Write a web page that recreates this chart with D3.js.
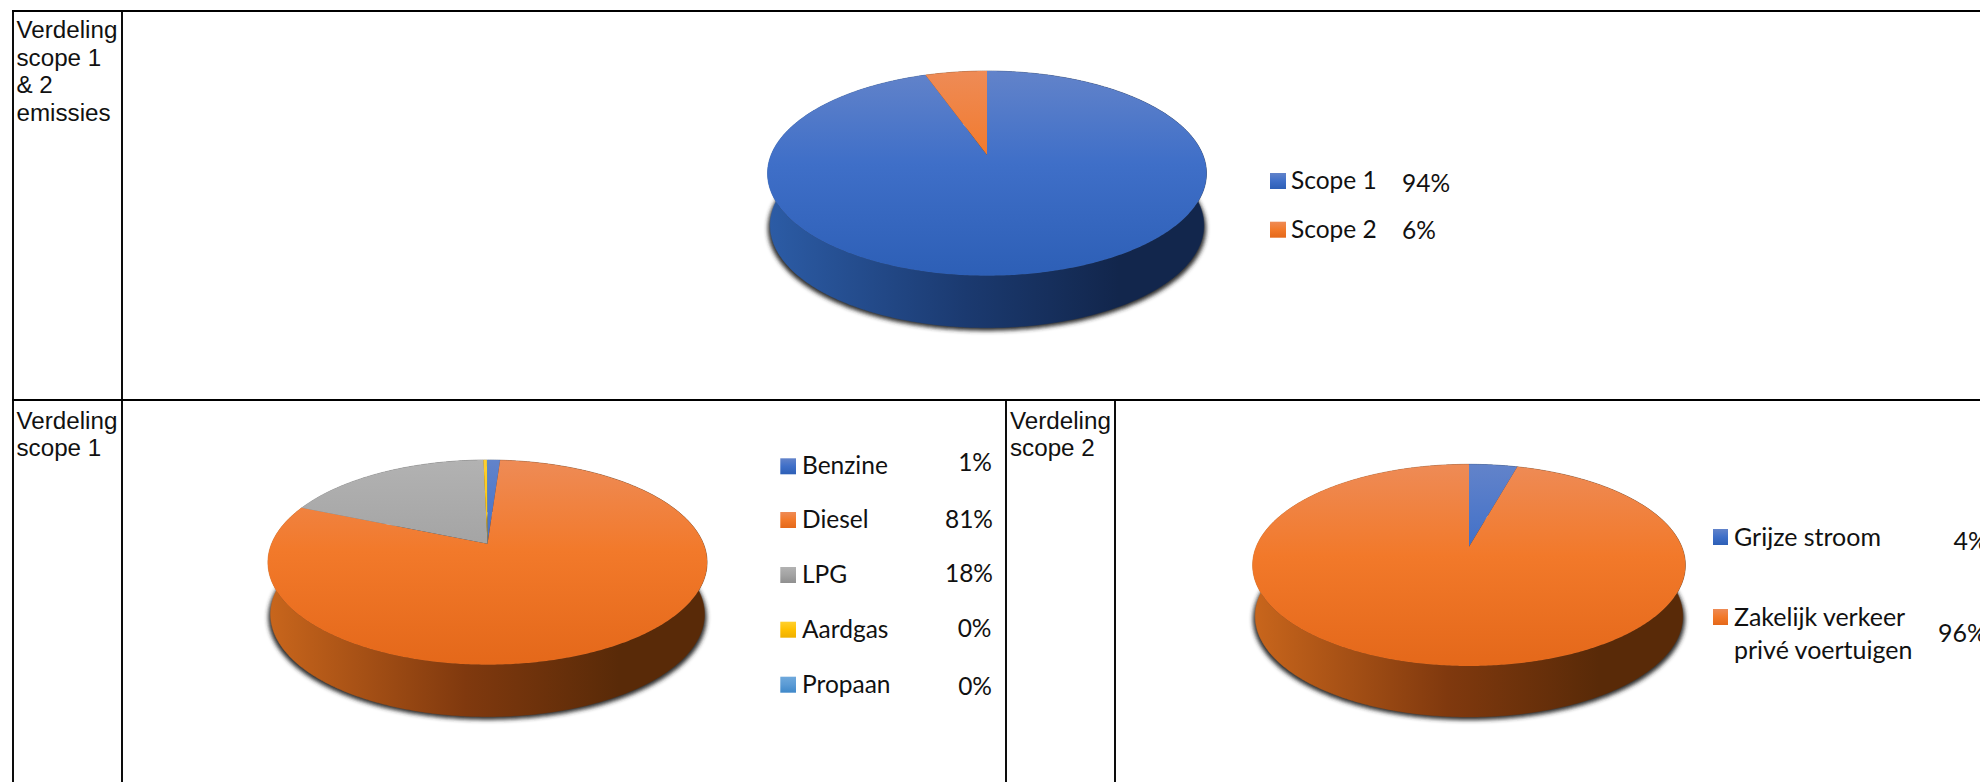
<!DOCTYPE html>
<html>
<head>
<meta charset="utf-8">
<script src="https://cdn.jsdelivr.net/npm/d3@7"></script>
<style>
html,body{margin:0;padding:0;background:#fff;overflow:hidden}
svg{display:block}
.cell{font-family:"Liberation Sans",Arial,sans-serif;font-size:24.2px;fill:#111}
.lg{font-family:Lato,"Carlito",sans-serif;font-size:24.5px;fill:#111}
</style>
</head>
<body>
<svg id="c" width="1980" height="782"></svg>
<script>
// Data
const scope12Names = ["Scope 1", "Scope 2"];
const scope12Values = [94.6, 5.4];
const scope12Labels = ["94%", "6%"];
const scope12Colors = ["blue", "orange"];

const scope1Names = ["Benzine", "Diesel", "LPG", "Aardgas", "Propaan"];
const scope1Values = [1.1, 80.25, 18.3, 0.3, 0.05];
const scope1Labels = ["1%", "81%", "18%", "0%", "0%"];
const scope1Colors = ["blue", "orange", "grey", "yellow", "sky"];

const scope2Names = [["Grijze stroom"], ["Zakelijk verkeer", "privé voertuigen"]];
const scope2Values = [4.3, 95.7];
const scope2Labels = ["4%", "96%"];
const scope2Colors = ["blue", "orange"];

const cellTitles = [["Verdeling", "scope 1", "& 2", "emissies"], ["Verdeling", "scope 1"], ["Verdeling", "scope 2"]];

// Styling
const ramps = {
  blue:   {top:["#6283ca","#3f6fc8","#2d5fb6"], side:["#2c5ca6","#1b3a70","#12264c"]},
  orange: {top:["#ee8b56","#f2792a","#e4681a"], side:["#c9661c","#80390e","#592a08"]},
  grey:   {top:["#b2b2b2","#a3a3a3","#8f8f8f"], side:["#8a8a8a","#5a5a5a","#3c3c3c"]},
  yellow: {top:["#ffd02e","#ffc000","#eeb000"], side:["#c79500","#8a6800","#5f4700"]},
  sky:    {top:["#6fa9dc","#5b9bd5","#3f88c9"], side:["#3f7fb8","#2a5a85","#1d3f5e"]}
};

const svg = d3.select("#c");
const defs = svg.append("defs");

defs.append("filter").attr("id","blur").attr("x","-10%").attr("y","-10%").attr("width","120%").attr("height","120%")
  .append("feGaussianBlur").attr("stdDeviation",2);

Object.entries(ramps).forEach(([name,r])=>{
  const sw = defs.append("linearGradient").attr("id","sw-"+name).attr("x1",0).attr("y1",0).attr("x2",0).attr("y2",1);
  r.top.forEach((c,i)=>sw.append("stop").attr("offset",i/2).attr("stop-color",c));
});

// Table rules
const rules = [[13,11,1980,11],[13,400,1980,400],[13,11,13,782],[122,11,122,782],[1006,400,1006,782],[1115,400,1115,782]];
svg.append("g").selectAll("line").data(rules).join("line")
  .attr("x1",d=>d[0]).attr("y1",d=>d[1]).attr("x2",d=>d[2]).attr("y2",d=>d[3])
  .attr("stroke","#000").attr("stroke-width",1.9).attr("stroke-linecap","square");

// Cell titles
[[16.5,[37.5,65.5,93,120.5]],[16.5,[428.5,456]],[1010,[428.5,456]]].forEach(([x,ys],i)=>{
  svg.append("g").selectAll("text").data(cellTitles[i]).join("text")
    .attr("class","cell").attr("x",x).attr("y",(d,j)=>ys[j]).text(d=>d);
});

// A tilted pie seen in perspective
function drawPie(id, values, colors, g){
  const k = (g.bottom-g.top)/(g.bottom+g.top);
  const ry = g.bottom*(1-k);
  const rx = g.rx*Math.sqrt(1-k*k);
  const project = t=>{
    const u=Math.sin(t), v=-Math.cos(t), s=1/(1-k*v);
    return [g.cx+rx*u*s, g.apexY+ry*v*s];
  };
  const sample = (a,b)=>{
    const n=Math.max(2,Math.ceil((b-a)/0.01));
    return d3.range(n+1).map(i=>project(a+(b-a)*i/n));
  };
  const lower = (p,extra)=>[g.cx+(p[0]-g.cx)*0.988, p[1]+g.depth+extra];
  const root = svg.append("g");
  const line = d3.line();
  const yTop = g.apexY-g.top, yBot = g.apexY+g.bottom;
  const x0 = g.cx-g.rx, x1 = g.cx+g.rx;
  const arcs = d3.pie().sort(null).value(d=>d)(values);

  colors.forEach(name=>{
    if(defs.select("#"+id+"-t-"+name).empty()){
      const t=defs.append("linearGradient").attr("id",id+"-t-"+name).attr("gradientUnits","userSpaceOnUse")
        .attr("x1",0).attr("x2",0).attr("y1",yTop).attr("y2",yBot);
      ramps[name].top.forEach((c,i)=>t.append("stop").attr("offset",[0,0.45,1][i]).attr("stop-color",c));
      const s=defs.append("linearGradient").attr("id",id+"-s-"+name).attr("gradientUnits","userSpaceOnUse")
        .attr("x1",x0).attr("x2",x1).attr("y1",0).attr("y2",0);
      ramps[name].side.forEach((c,i)=>s.append("stop").attr("offset",[0,0.45,0.8][i]).attr("stop-color",c));
    }
  });

  const full = sample(0,2*Math.PI);
  root.append("path")
    .attr("d",line(full.map(p=>{const q=lower(p,3);return [g.cx+(q[0]-g.cx)*1.01,q[1]];}))+"Z")
    .attr("fill","#2a2a2a").attr("filter","url(#blur)");

  // Walls
  root.append("g").selectAll("path").data(arcs).join("path")
    .attr("d",d=>{
      const e=sample(d.startAngle,d.endAngle);
      return line(e.concat(e.slice().reverse().map(p=>lower(p,0))))+"Z";
    })
    .attr("fill",(d,i)=>`url(#${id}-s-${colors[i]})`)
    .attr("stroke",(d,i)=>`url(#${id}-s-${colors[i]})`).attr("stroke-width",0.5);

  // Top face
  root.append("g").selectAll("path").data(arcs).join("path")
    .attr("d",d=>line([[g.cx,g.apexY]].concat(sample(d.startAngle,d.endAngle)))+"Z")
    .attr("fill",(d,i)=>`url(#${id}-t-${colors[i]})`);
}

drawPie("a", scope12Values, scope12Colors, {cx:987, apexY:155, rx:219.5, top:84, bottom:120.7, depth:52});
drawPie("b", scope1Values,  scope1Colors,  {cx:487.5, apexY:543.7, rx:219.6, top:83.7, bottom:121, depth:52});
drawPie("c", scope2Values,  scope2Colors,  {cx:1469, apexY:546.7, rx:216.4, top:82.4, bottom:119.3, depth:51});

// Legends
function legend(names, labels, colors, o){
  const g = svg.append("g");
  names.forEach((nm,i)=>{
    g.append("rect").attr("x",o.sx).attr("y",o.base[i]-o.sh+o.sd).attr("width",o.sw).attr("height",o.sh)
      .attr("fill",`url(#sw-${colors[i]})`);
    [].concat(nm).forEach((t,j)=>{
      g.append("text").attr("class","lg")
        .attr("transform",`translate(${o.tx},${(j?o.line2:o.base[i])+1}) scale(${o.stretch},1)`)
        .text(t);
    });
    g.append("text").attr("class","lg")
      .attr("transform",`translate(${o.px[i]},${o.pb[i]+0.7}) scale(${o.stretch},1)`)
      .attr("text-anchor",o.anchor).text(labels[i]);
  });
}
legend(scope12Names, scope12Labels, scope12Colors, {
  sx:1270, sw:16, sh:16, sd:1, tx:1291, base:[188,236.7], stretch:1,
  px:[1402,1402], pb:[191.7,238], anchor:"start"
});
legend(scope1Names, scope1Labels, scope1Colors, {
  sx:780.3, sw:15.7, sh:16, sd:1, tx:802, base:[473.3,527,582,636.7,691.7], stretch:1,
  px:[992,993,993,991.5,992], pb:[470.7,527,581.7,636.7,694], anchor:"end"
});
legend(scope2Names, scope2Labels, scope2Colors, {
  sx:1713, sw:15, sh:16, sd:0, tx:1734, base:[545,625], line2:657.7, stretch:1.02,
  px:[1953.4,1938], pb:[549,641], anchor:"start"
});
</script>
</body>
</html>
